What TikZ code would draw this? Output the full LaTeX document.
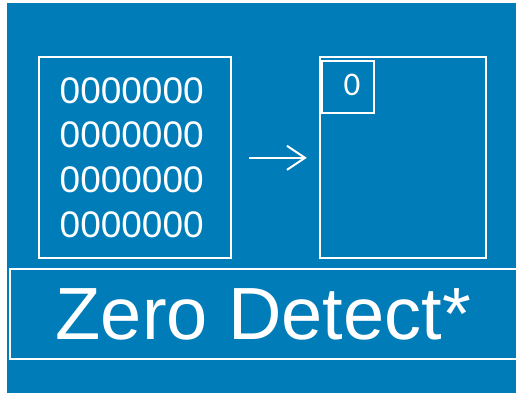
\documentclass[tikz,border=0pt]{standalone}
\usepackage{fontspec}
\setmainfont{Liberation Sans}
\newfontfamily\calibri{Carlito}
\usetikzlibrary{arrows.meta,positioning}
\definecolor{slideblue}{RGB}{0,125,185}

\begin{document}
\begin{tikzpicture}[x=1pt, y=-1pt,
    box/.style={rectangle, draw=white, line width=2pt, inner sep=0pt},
    bits/.style={text=white, inner sep=0pt, font=\fontsize{37}{44}\selectfont}]
    % Background
    \fill[white] (0,0) rectangle (516,393);
    \fill[slideblue] (7,3) rectangle (516,393);
    \useasboundingbox (0,0) rectangle (516,393);

    % Memory block
    \node[box, minimum width=192pt, minimum height=201pt] (mem) at (135.3,157.8) {};
    \node[bits] (row1) at (131.7,90.7) {0000000};
    \node[bits] (row2) at (131.7,135) {0000000};
    \node[bits] (row3) at (131.7,180) {0000000};
    \node[bits] (row4) at (131.7,224.3) {0000000};

    % Detector
    \node[box, minimum width=166pt, minimum height=201pt] (det) at (403.3,157.8) {};
    \node[box, minimum width=52pt, minimum height=52pt, anchor=north west] (flag) at (320.8,60) {};
    \node[text=white, inner sep=0pt, font=\calibri\fontsize{33}{36}\selectfont] (bit) at (352,85.3) {0};

    \draw[white, line width=2pt, -{Straight Barb[length=18pt,width=24pt]},
          shorten <=17pt, shorten >=12.5pt] (mem.east) -- (det.west);

    % Title
    \node[box, minimum width=560pt, minimum height=90pt, anchor=north west] (banner) at (8.5,267.5) {};
    \node[text=white, inner sep=0pt, font=\fontsize{74}{80}\selectfont] (title) at (263.4,314) {Zero Detect*};
\end{tikzpicture}
\end{document}
